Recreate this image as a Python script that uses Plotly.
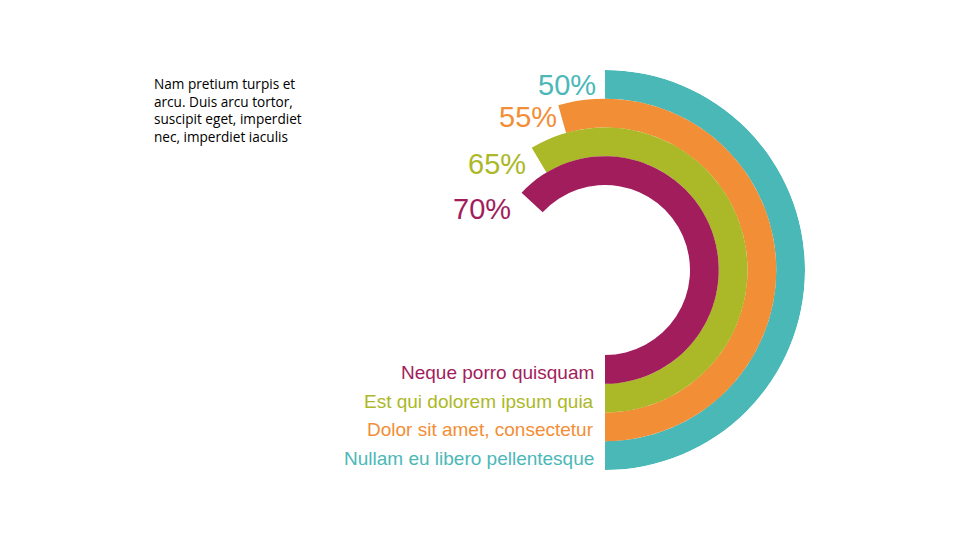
import plotly.graph_objects as go

# ---- data ----
categories = ["Nullam eu libero pellentesque", "Dolor sit amet, consectetur",
              "Est qui dolorem ipsum quia", "Neque porro quisquam"]
pct_labels = ["50%", "55%", "65%", "70%"]
arc_values = [50, 54.4, 58.6, 63.1]  # arc sweep (% of full circle)
colors = ["#4bb8b8", "#f28e35", "#abb827", "#a21d5c"]
note_text = "Nam pretium turpis et<br>arcu. Duis arcu tortor,<br>suscipit eget, imperdiet<br>nec, imperdiet iaculis"

W, H = 960, 540
CX, CY, R = 605, 270, 200        # pixel centre / outer radius
INNER = 85
band = (R - INNER) / len(arc_values)

fig = go.Figure()
n = len(arc_values)
for i, (cat, v, c) in enumerate(zip(categories, arc_values, colors)):
    ring = n - 1 - i           # outermost first category
    span = v * 3.6
    fig.add_trace(go.Barpolar(
        r=[band], base=[INNER + ring * band],
        theta=[span / 2], width=[span],
        marker=dict(color=c, line=dict(width=0)),
        name=cat, showlegend=False, hoverinfo="skip"))

fig.update_layout(
    width=W, height=H, margin=dict(l=0, r=0, t=0, b=0),
    paper_bgcolor="white", plot_bgcolor="white",
    polar=dict(
        domain=dict(x=[(CX - R) / W, (CX + R) / W],
                    y=[(H - CY - R) / H, (H - CY + R) / H]),
        bgcolor="white",
        radialaxis=dict(range=[0, R], visible=False, showgrid=False),
        angularaxis=dict(rotation=-90, direction="counterclockwise",
                         visible=False, showgrid=False),
        bargap=0,
    ),
)

def px(x):
    return x / W

def py(y):
    return 1 - y / H

# category labels (right aligned at bottom of rings)
for i, (cat, c) in enumerate(zip(categories, colors)):
    ring = n - 1 - i
    mid = INNER + (ring + 0.5) * band
    fig.add_annotation(x=px(596), y=py(CY + mid + 3), xref="paper", yref="paper",
                       text=cat, showarrow=False, xanchor="right", yanchor="middle",
                       font=dict(family="Liberation Sans, Arial", size=19, color=c))

# percent labels near arc ends
pct_pos = [(598, 85), (559, 117), (528, 164), (513, 209)]
for (x, y), t, c in zip(pct_pos, pct_labels, colors):
    fig.add_annotation(x=px(x), y=py(y), xref="paper", yref="paper",
                       text=t, showarrow=False, xanchor="right", yanchor="middle",
                       font=dict(family="Liberation Sans, Arial", size=29, color=c))

fig.add_annotation(x=px(152), y=py(72), xref="paper", yref="paper",
                   text=note_text, showarrow=False, xanchor="left", yanchor="top",
                   align="left",
                   font=dict(family="Open Sans", size=13.6, color="#000000"))

fig.write_html("out.html", config={"displayModeBar": False},
               post_script="document.body.style.margin='0';document.body.style.overflow='hidden';")
